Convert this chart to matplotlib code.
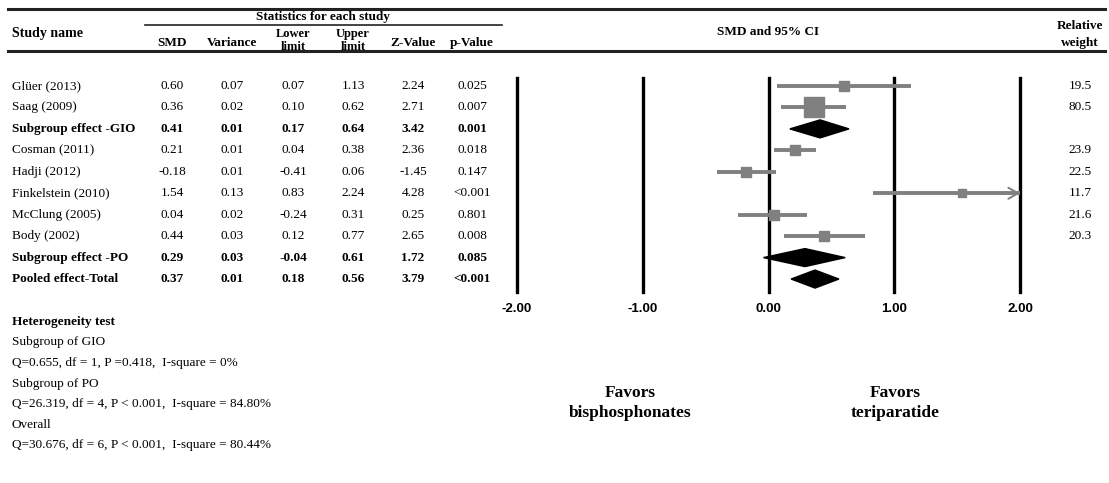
"""Forest plot: SMD of teriparatide vs bisphosphonates, with side table."""
import numpy as np
import matplotlib
matplotlib.use("Agg")
import matplotlib.pyplot as plt
from matplotlib.patches import Polygon

studies = ["Glüer (2013)", "Saag (2009)", "Subgroup effect -GIO", "Cosman (2011)",
           "Hadji (2012)", "Finkelstein (2010)", "McClung (2005)", "Body (2002)",
           "Subgroup effect -PO", "Pooled effect-Total"]
smd = [0.60, 0.36, 0.41, 0.21, -0.18, 1.54, 0.04, 0.44, 0.29, 0.37]
variance = [0.07, 0.02, 0.01, 0.01, 0.01, 0.13, 0.02, 0.03, 0.03, 0.01]
lower = [0.07, 0.10, 0.17, 0.04, -0.41, 0.83, -0.24, 0.12, -0.04, 0.18]
upper = [1.13, 0.62, 0.64, 0.38, 0.06, 2.24, 0.31, 0.77, 0.61, 0.56]
zval = [2.24, 2.71, 3.42, 2.36, -1.45, 4.28, 0.25, 2.65, 1.72, 3.79]
pval = ["0.025", "0.007", "0.001", "0.018", "0.147", "<0.001", "0.801", "0.008", "0.085", "<0.001"]
weight = [19.5, 80.5, None, 23.9, 22.5, 11.7, 21.6, 20.3, None, None]
summary = [False, False, True, False, False, False, False, False, True, True]
xticks = [-2.0, -1.0, 0.0, 1.0, 2.0]
het_lines = [("Heterogeneity test", True), ("Subgroup of GIO", False),
             ("Q=0.655, df = 1, P =0.418,  I-square = 0%", False),
             ("Subgroup of PO", False),
             ("Q=26.319, df = 4, P < 0.001,  I-square = 84.80%", False),
             ("Overall", False),
             ("Q=30.676, df = 6, P < 0.001,  I-square = 80.44%", False)]

W, H = 1109, 483
SERIF = "Liberation Serif"
SANS = "Liberation Sans"
GRAY = "#808080"
Y0, DY = 86, 21.45         # pixel y of first row, row spacing

fig = plt.figure(figsize=(W / 100, H / 100), dpi=100)
bg = fig.add_axes([0, 0, 1, 1])
bg.set_xlim(0, W); bg.set_ylim(H, 0); bg.axis("off")


def rowy(i):
    return Y0 + i * DY


# ---- header ----
bg.plot([8, 1105], [9, 9], c="#222", lw=2.2)
bg.plot([8, 1105], [51, 51], c="#222", lw=2.2)
bg.plot([145, 502], [24.5, 24.5], c="#222", lw=1.2)
hk = dict(family=SERIF, weight="bold", fontsize=9.5, ha="center", va="center")
bg.text(323, 17, "Statistics for each study", **hk)
bg.text(12, 33, "Study name", **{**hk, "ha": "left", "fontsize": 10})
cols_x = [172, 232, 293, 353, 413, 472]
heads = ["SMD", "Variance", "Lower\nlimit", "Upper\nlimit", "Z-Value", "p-Value"]
for x, h in zip(cols_x, heads):
    if "\n" in h:
        bg.text(x, 40.5, h, linespacing=1.15, **{**hk, "fontsize": 9})
    else:
        bg.text(x, 43, h, **hk)
bg.text(768, 32, "SMD and 95% CI", **hk)
bg.text(1080, 34.5, "Relative\nweight", linespacing=1.45, **hk)

# ---- table rows ----
for i, name in enumerate(studies):
    y = rowy(i)
    kw = dict(family=SERIF, fontsize=9.5, va="center",
              weight="bold" if summary[i] else "normal")
    bg.text(12, y, name, ha="left", **kw)
    vals = [f"{smd[i]:.2f}", f"{variance[i]:.2f}", f"{lower[i]:.2f}",
            f"{upper[i]:.2f}", f"{zval[i]:.2f}", pval[i]]
    for x, v in zip(cols_x, vals):
        bg.text(x, y, v, ha="center", **kw)
    if weight[i] is not None:
        bg.text(1080, y, f"{weight[i]:.1f}", ha="center", **kw)

# ---- heterogeneity ----
for k, (t, b) in enumerate(het_lines):
    bg.text(12, 322 + k * 20.5, t, family=SERIF, fontsize=9.5, va="center",
            weight="bold" if b else "normal")

# ---- forest axes ----
x_left, x_right = 517, 1020
top_row, bot_row = -0.38, 9.6
ax = fig.add_axes([x_left / W, 1 - rowy(bot_row) / H,
                   (x_right - x_left) / W, (rowy(bot_row) - rowy(top_row)) / H])
ax.set_xlim(-2, 2)
ax.set_ylim(bot_row, top_row)
for s in ax.spines.values():
    s.set_visible(False)
for t in xticks:
    ax.axvline(t, c="black", lw=2.4, zorder=1, clip_on=False)
ax.set_yticks([])
ax.set_xticks(xticks)
ax.set_xticklabels([f"{t:.2f}" for t in xticks], family=SANS, weight="bold", fontsize=9.5)
ax.tick_params(axis="x", length=0, pad=8)

for i in range(len(studies)):
    if summary[i]:
        d = 0.42
        ax.add_patch(Polygon([(lower[i], i), (smd[i], i - d), (upper[i], i), (smd[i], i + d)],
                             closed=True, fc="black", ec="black", zorder=3, clip_on=False))
        continue
    hi = min(upper[i], 2.0)
    ax.plot([lower[i], hi], [i, i], c=GRAY, lw=2.8, solid_capstyle="butt", zorder=2,
            clip_on=False)
    if upper[i] > 2.0:
        # CI runs past the axis: open arrowhead at the edge
        ax.annotate("", xy=(hi, i), xytext=(hi - 0.15, i),
                    arrowprops=dict(arrowstyle="->,head_length=0.7,head_width=0.4",
                                    color=GRAY, lw=1.4, shrinkA=0, shrinkB=0), zorder=2)
    side_px = 2.25 * np.sqrt(weight[i])
    ax.plot(smd[i], i, marker="s", ms=side_px * 0.72, c=GRAY, mec=GRAY, zorder=3)

# ---- favors labels ----
fk = dict(family=SERIF, weight="bold", fontsize=12.5, ha="center", va="center", linespacing=1.3)
bg.text(630, 403, "Favors\nbisphosphonates", **fk)
bg.text(895, 403, "Favors\nteriparatide", **fk)

fig.savefig("out.png", dpi=100)
